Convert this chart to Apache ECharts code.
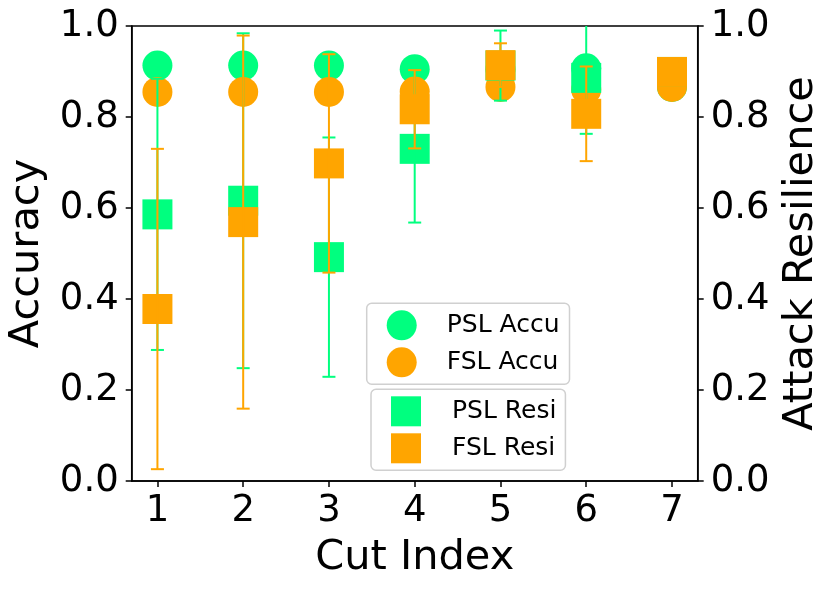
<!DOCTYPE html>
<html>
<head>
<meta charset="utf-8">
<script src="https://cdn.jsdelivr.net/npm/echarts@6/dist/echarts.min.js"></script>
<style>
  html, body { margin: 0; padding: 0; background: #fff; }
  #chart { width: 830px; height: 590px; }
</style>
</head>
<body>
<div id="chart"></div>
<script>
// cut index on the x axis
const cutIndex = [1, 2, 3, 4, 5, 6, 7];
const xTicks = [1, 2, 3, 4, 5, 6, 7];
const yTicks = [0, 0.2, 0.4, 0.6, 0.8, 1.0];

// accuracy (left axis)
const pslAccu = [0.913, 0.913, 0.913, 0.905, 0.905, 0.907, 0.866];
const fslAccu = [0.855, 0.855, 0.855, 0.856, 0.866, 0.860, 0.866];

// attack resilience (right axis), mean and error
const pslResi = [0.586, 0.616, 0.492, 0.730, 0.913, 0.886, 0.899];
const pslResiErr = [0.298, 0.368, 0.263, 0.162, 0.077, 0.123, 0.022];
const fslResi = [0.378, 0.569, 0.698, 0.817, 0.914, 0.807, 0.899];
const fslResiErr = [0.352, 0.410, 0.240, 0.086, 0.048, 0.104, 0.023];

const GREEN = '#00FF7F';
const ORANGE = '#FFA500';
const FONT = 'DejaVu Sans';

function pts(ys) {
  return cutIndex.map((x, i) => [x, ys[i]]);
}
function bars(ys, errs) {
  return cutIndex.map((x, i) => [x, ys[i] - errs[i], ys[i] + errs[i]]);
}

function errorBar(color) {
  return function (params, api) {
    let x = api.value(0);
    let lo = api.coord([x, api.value(1)]);
    let hi = api.coord([x, api.value(2)]);
    let cap = 6.5;
    let style = { stroke: color, lineWidth: 2 };
    return {
      type: 'group',
      children: [
        { type: 'line', shape: { x1: lo[0], y1: lo[1], x2: hi[0], y2: hi[1] }, style: style },
        { type: 'line', shape: { x1: lo[0] - cap, y1: lo[1], x2: lo[0] + cap, y2: lo[1] }, style: style },
        { type: 'line', shape: { x1: hi[0] - cap, y1: hi[1], x2: hi[0] + cap, y2: hi[1] }, style: style }
      ]
    };
  };
}

const axisLineStyle = { show: true, lineStyle: { color: '#000', width: 1.5 } };
const tickStyle = { show: true, inside: false, length: 6, lineStyle: { color: '#000', width: 1.5 } };

function yAxis(name, pos, gap) {
  return {
    type: 'value',
    position: pos,
    min: 0,
    max: 1,
    interval: 0.2,
    name: name,
    nameLocation: 'middle',
    nameRotate: 90,
    nameGap: gap,
    nameTextStyle: { fontFamily: FONT, fontSize: 41.5, color: '#000' },
    axisLine: axisLineStyle,
    axisTick: tickStyle,
    splitLine: { show: false },
    axisLabel: {
      fontFamily: FONT, fontSize: 37, color: '#000', margin: 13,
      customValues: yTicks,
      formatter: v => v.toFixed(1)
    }
  };
}

const legendBase = {
  orient: 'vertical',
  itemWidth: 30,
  itemHeight: 30,
  itemGap: 7,
  backgroundColor: 'rgba(255,255,255,0.8)',
  borderColor: '#d0d0d0',
  borderWidth: 1.5,
  borderRadius: 5,
  selectedMode: false,
  textStyle: { fontFamily: FONT, fontSize: 25, color: '#000', padding: [0, 0, 0, 25] }
};

const options = {
  animation: false,
  grid: {
    left: 131.7, right: 132.3, top: 26, bottom: 109,
    outerBoundsMode: 'none',
    show: true, borderColor: '#000', borderWidth: 1.5, backgroundColor: 'transparent'
  },
  legend: [
    Object.assign({}, legendBase, {
      left: 366.7, top: 303.3,
      padding: [7, 10, 7, 20],
      data: [
        { name: 'PSL Accu', icon: 'circle' },
        { name: 'FSL Accu', icon: 'circle' }
      ]
    }),
    Object.assign({}, legendBase, {
      left: 371, top: 389.3,
      padding: [7, 9, 7, 20],
      textStyle: { fontFamily: FONT, fontSize: 25, color: '#000', padding: [0, 0, 0, 26] },
      data: [
        { name: 'PSL Resi', icon: 'rect' },
        { name: 'FSL Resi', icon: 'rect' }
      ]
    })
  ],
  xAxis: {
    type: 'value',
    min: 0.7,
    max: 7.3,
    name: 'Cut Index',
    nameLocation: 'middle',
    nameGap: 56,
    nameTextStyle: { fontFamily: FONT, fontSize: 41.5, color: '#000' },
    axisLine: axisLineStyle,
    axisTick: Object.assign({}, tickStyle, { customValues: xTicks }),
    splitLine: { show: false },
    axisLabel: { fontFamily: FONT, fontSize: 37, color: '#000', margin: 12, customValues: xTicks }
  },
  yAxis: [yAxis('Accuracy', 'left', 83), yAxis('Attack Resilience', 'right', 79)],
  series: [
    {
      name: 'PSL Accu', type: 'scatter', yAxisIndex: 0, symbol: 'circle', symbolSize: 30,
      itemStyle: { color: GREEN, opacity: 1 }, data: pts(pslAccu), z: 2
    },
    {
      name: 'FSL Accu', type: 'scatter', yAxisIndex: 0, symbol: 'circle', symbolSize: 30,
      itemStyle: { color: ORANGE, opacity: 1 }, data: pts(fslAccu), z: 3
    },
    {
      name: 'PSL Resi', type: 'scatter', yAxisIndex: 1, symbol: 'rect', symbolSize: 30,
      itemStyle: { color: GREEN, opacity: 1 }, data: pts(pslResi), z: 4
    },
    {
      name: 'PSL Resi err', type: 'custom', yAxisIndex: 1, renderItem: errorBar(GREEN),
      encode: { x: 0, y: [1, 2] }, data: bars(pslResi, pslResiErr), clip: true, z: 5
    },
    {
      name: 'FSL Resi', type: 'scatter', yAxisIndex: 1, symbol: 'rect', symbolSize: 30,
      itemStyle: { color: ORANGE, opacity: 1 }, data: pts(fslResi), z: 6
    },
    {
      name: 'FSL Resi err', type: 'custom', yAxisIndex: 1, renderItem: errorBar(ORANGE),
      encode: { x: 0, y: [1, 2] }, data: bars(fslResi, fslResiErr), clip: true, z: 7
    }
  ]
};

let myChart = echarts.init(document.getElementById('chart'));
myChart.setOption(options);
window.addEventListener('resize', () => { myChart.resize(); });
</script>
</body>
</html>
